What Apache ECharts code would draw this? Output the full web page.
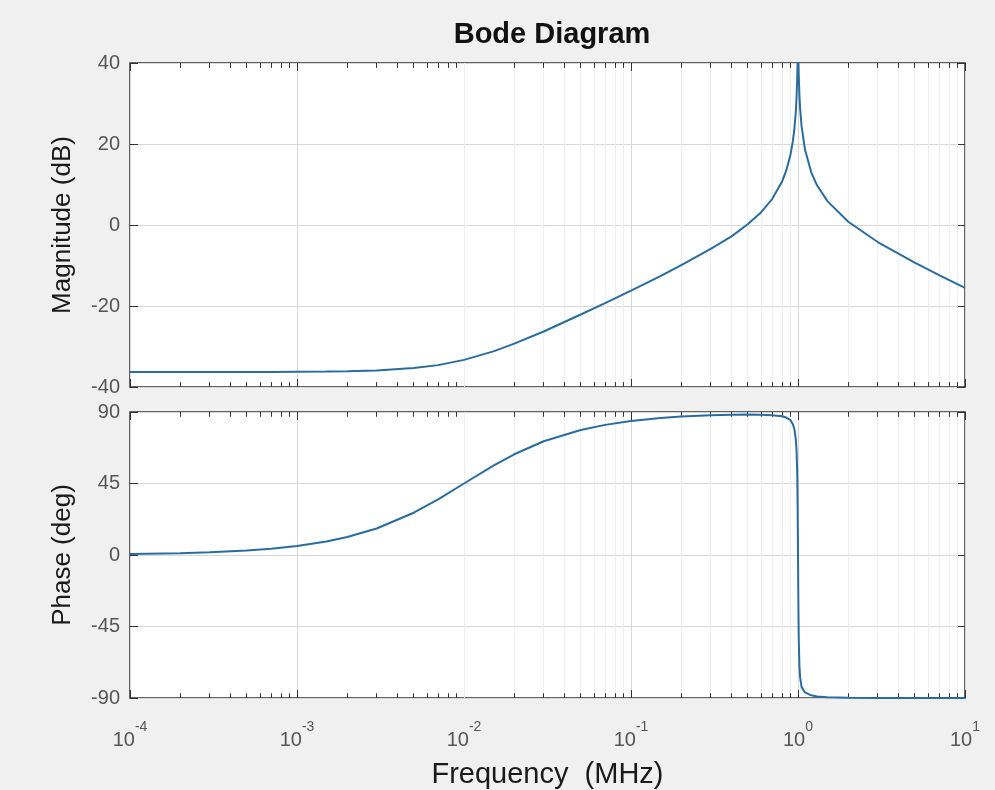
<!DOCTYPE html>
<html>
<head>
<meta charset="utf-8">
<title>Bode Diagram</title>
<script src="https://cdn.jsdelivr.net/npm/echarts@6/dist/echarts.min.js"></script>
<style>
  html, body { margin: 0; padding: 0; background: #f0f0f0; }
  #chart { width: 995px; height: 790px; }
</style>
</head>
<body>
<div id="chart"></div>
<script>
// frequency points (MHz)
const freq = [1e-4, 2e-4, 3e-4, 5e-4, 7e-4, 1e-3, 1.5e-3, 2e-3, 3e-3, 5e-3, 7e-3,
  0.01, 0.015, 0.02, 0.03, 0.05, 0.07, 0.1, 0.15, 0.2, 0.3, 0.4, 0.5, 0.6, 0.7,
  0.8, 0.85, 0.9, 0.93, 0.95, 0.97, 0.98, 0.99, 0.995, 1.0, 1.005, 1.01, 1.02,
  1.03, 1.05, 1.1, 1.2, 1.3, 1.5, 2, 3, 5, 7, 10]

// magnitude (dB)
const magnitude = [-36.3, -36.3, -36.3, -36.3, -36.3, -36.25, -36.2, -36.1, -35.9, -35.3, -34.6,
  -33.3, -31.2, -29.3, -26.3, -22.1, -19.3, -16.2, -12.6, -9.9, -5.9, -2.8, 0.2, 3.1, 6.4,
  10.6, 13.4, 17.2, 20.5, 23.4, 27.9, 31.3, 36.7, 40.7, 43.7, 41.3, 37.3, 32.0,
  28.7, 24.5, 18.7, 13.0, 9.8, 5.9, 0.8, -4.2, -9.3, -12.4, -15.5]

// phase (deg)
const phase = [0.6, 1.1, 1.7, 2.9, 4.0, 5.7, 8.5, 11.3, 16.7, 26.6, 35.0,
  45.0, 56.3, 63.4, 71.6, 78.7, 81.9, 84.3, 86.2, 87.1, 88.0, 88.3, 88.4, 88.3, 88.0,
  87.3, 86.5, 85.0, 82.5, 79.5, 73, 66, 50, 30, 0, -30, -52, -70,
  -77, -83, -86.5, -88.3, -89.1, -89.6, -89.9, -90, -90, -90, -90]

const decadeExponents = [-4, -3, -2, -1, 0, 1]
const magTicks = [-40, -20, 0, 20, 40]
const phaseTicks = [-90, -45, 0, 45, 90]

const FONT = '"Liberation Sans", Arial, Helvetica, sans-serif'
const LINE_COLOR = '#2b6c9e'
const BORDER = '#333333'

// minor log gridlines 2..9 inside each decade
const minorFreqs = []
decadeExponents.slice(0, -1).forEach((e) => {
  for (let k = 2; k <= 9; k++) minorFreqs.push(k * Math.pow(10, e))
})

const minorMarks = (yMin, yMax, tickLen) => {
  const data = []
  minorFreqs.forEach((f) => {
    data.push({ xAxis: f, lineStyle: { color: '#efefef', width: 1, type: 'solid' } })
    data.push([{ coord: [f, yMax], lineStyle: { color: BORDER, width: 1, type: 'solid' } }, { coord: [f, yMax - tickLen] }])
    data.push([{ coord: [f, yMin], lineStyle: { color: BORDER, width: 1, type: 'solid' } }, { coord: [f, yMin + tickLen] }])
  })
  return {
    silent: true,
    symbol: ['none', 'none'],
    label: { show: false },
    emphasis: { disabled: true },
    lineStyle: { color: '#efefef', width: 1, type: 'solid' },
    data,
  }
}

const supLabel = (value) => {
  const e = Math.round(Math.log10(value))
  return '{b|10}{s|' + e + '}'
}

const logAxis = (gridIndex, position, showLabels, extra) => Object.assign({
  type: 'log',
  logBase: 10,
  gridIndex,
  position,
  min: Math.pow(10, decadeExponents[0]),
  max: Math.pow(10, decadeExponents[decadeExponents.length - 1]),
  axisLine: { show: false, onZero: false },
  axisTick: { show: true, inside: true, length: 8, lineStyle: { color: BORDER } },
  splitLine: { show: position === 'bottom', lineStyle: { color: '#d6d6d6', width: 1 } },
  minorTick: { show: false },
  axisLabel: showLabels
    ? {
        show: true,
        margin: 22,
        formatter: supLabel,
        rich: {
          b: { fontFamily: FONT, fontSize: 20, color: '#555', verticalAlign: 'bottom', lineHeight: 30 },
          s: { fontFamily: FONT, fontSize: 14, color: '#555', verticalAlign: 'top', lineHeight: 30 },
        },
      }
    : { show: false },
}, extra || {})

const valAxis = (gridIndex, position, ticks, name) => ({
  type: 'value',
  gridIndex,
  position,
  min: ticks[0],
  max: ticks[ticks.length - 1],
  interval: ticks[1] - ticks[0],
  axisLine: { show: false, onZero: false },
  axisTick: { show: true, inside: true, length: 8, lineStyle: { color: BORDER } },
  splitLine: { show: position === 'left', lineStyle: { color: '#d6d6d6', width: 1 } },
  axisLabel: position === 'left'
    ? { show: true, margin: 10, fontFamily: FONT, fontSize: 20, color: '#555' }
    : { show: false },
  name: position === 'left' ? name : '',
  nameLocation: 'middle',
  nameGap: 54,
  nameTextStyle: { fontFamily: FONT, fontSize: 26, color: '#1a1a1a' },
})

const chart = echarts.init(document.getElementById('chart'), null, { renderer: 'canvas' })

const option = {
  animation: false,
  backgroundColor: '#f0f0f0',
  title: {
    text: 'Bode Diagram',
    left: 547,
    top: 15,
    textAlign: 'center',
    textStyle: { fontFamily: FONT, fontSize: 29, fontWeight: 'bold', color: '#111' },
  },
  grid: [
    { left: 130, top: 63, width: 835, height: 324, show: true, backgroundColor: '#ffffff', borderColor: BORDER, borderWidth: 1.5 },
    { left: 130, top: 412, width: 835, height: 287, show: true, backgroundColor: '#ffffff', borderColor: BORDER, borderWidth: 1.5 },
  ],
  xAxis: [
    logAxis(0, 'bottom', false),
    logAxis(0, 'top', false),
    logAxis(1, 'bottom', true, {
      name: 'Frequency  (MHz)',
      nameLocation: 'middle',
      nameGap: 62,
      nameTextStyle: { fontFamily: FONT, fontSize: 29, color: '#1a1a1a' },
    }),
    logAxis(1, 'top', false),
  ],
  yAxis: [
    valAxis(0, 'left', magTicks, 'Magnitude (dB)'),
    valAxis(0, 'right', magTicks),
    valAxis(1, 'left', phaseTicks, 'Phase (deg)'),
    valAxis(1, 'right', phaseTicks),
  ],
  series: [
    // minor grid + minor ticks, kept under the curves
    { type: 'line', xAxisIndex: 0, yAxisIndex: 0, data: [], z: 1, silent: true, markLine: minorMarks(-40, 40, 1.2) },
    { type: 'line', xAxisIndex: 2, yAxisIndex: 2, data: [], z: 1, silent: true, markLine: minorMarks(-90, 90, 3) },
    {
      name: 'Magnitude',
      type: 'line',
      xAxisIndex: 0,
      yAxisIndex: 0,
      data: freq.map((f, i) => [f, magnitude[i]]),
      showSymbol: false,
      clip: true,
      lineStyle: { color: LINE_COLOR, width: 2 },
      z: 5,
    },
    {
      name: 'Phase',
      type: 'line',
      xAxisIndex: 2,
      yAxisIndex: 2,
      data: freq.map((f, i) => [f, phase[i]]),
      showSymbol: false,
      clip: true,
      lineStyle: { color: LINE_COLOR, width: 2 },
      z: 5,
    },
  ],
}

chart.setOption(option)
</script>
</body>
</html>
